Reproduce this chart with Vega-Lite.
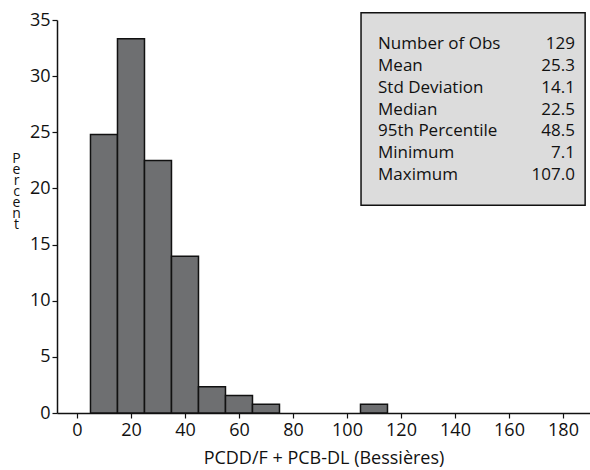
{
  "$schema": "https://vega.github.io/schema/vega-lite/v6.json",
  "width": 533,
  "height": 393,
  "autosize": {"type": "none"},
  "padding": {"left": 57, "top": 20, "right": 0, "bottom": 57},
  "background": "white",
  "config": {"view": {"stroke": null}, "font": "Open Sans", "text": {"font": "Open Sans"}},
  "datasets": {
    "bins": [
      {"bin_start": 5, "bin_end": 15, "percent": 24.81},
      {"bin_start": 15, "bin_end": 25, "percent": 33.33},
      {"bin_start": 25, "bin_end": 35, "percent": 22.48},
      {"bin_start": 35, "bin_end": 45, "percent": 13.95},
      {"bin_start": 45, "bin_end": 55, "percent": 2.33},
      {"bin_start": 55, "bin_end": 65, "percent": 1.55},
      {"bin_start": 65, "bin_end": 75, "percent": 0.78},
      {"bin_start": 105, "bin_end": 115, "percent": 0.78}
    ],
    "stats": [
      {"stat": "Number of Obs", "value": "129"},
      {"stat": "Mean", "value": "25.3"},
      {"stat": "Std Deviation", "value": "14.1"},
      {"stat": "Median", "value": "22.5"},
      {"stat": "95th Percentile", "value": "48.5"},
      {"stat": "Minimum", "value": "7.1"},
      {"stat": "Maximum", "value": "107.0"}
    ]
  },
  "resolve": {"scale": {"y": "independent"}},
  "layer": [
    {
      "data": {"name": "bins"},
      "mark": {"type": "rect", "fill": "#6e6f71", "stroke": "#111111", "strokeWidth": 1.5},
      "encoding": {
        "x": {
          "field": "bin_start", "type": "quantitative",
          "scale": {"domain": [-7.4, 190], "nice": false, "zero": false},
          "axis": {
            "values": [0, 10, 20, 30, 40, 50, 60, 70, 80, 90, 100, 110, 120, 130, 140, 150, 160, 170, 180],
            "labelExpr": "datum.value % 20 == 0 ? datum.label : ''",
            "grid": false,
            "domainColor": "#111111", "domainWidth": 1.5,
            "tickColor": "#111111", "tickSize": 5, "tickWidth": 1.2,
            "labelFontSize": 18, "labelColor": "#111111", "labelPadding": 3, "labelFont": "Open Sans",
            "title": "PCDD/F + PCB-DL (Bessières)",
            "titleFontSize": 18, "titleFontWeight": "normal", "titleColor": "#111111", "titleFont": "Open Sans",
            "titleBaseline": "alphabetic", "titleY": 50
          }
        },
        "x2": {"field": "bin_end"},
        "y": {
          "field": "percent", "type": "quantitative",
          "scale": {"domain": [0, 35], "nice": false},
          "axis": {
            "values": [0, 5, 10, 15, 20, 25, 30, 35],
            "grid": false,
            "domainColor": "#111111", "domainWidth": 1.5,
            "tickColor": "#111111", "tickSize": 5, "tickWidth": 1.2,
            "labelFontSize": 18, "labelColor": "#111111", "labelPadding": 2, "labelFont": "Open Sans",
            "title": ["P", "e", "r", "c", "e", "n", "t"],
            "titleAngle": 0, "titleAlign": "center", "titleBaseline": "top",
            "titleFontSize": 14, "titleFontWeight": "normal", "titleColor": "#111111", "titleFont": "Open Sans",
            "titleLineHeight": 11, "titleX": -41, "titleY": 131
          }
        },
        "y2": {"datum": 0}
      }
    },
    {
      "data": {"values": [{}]},
      "mark": {"type": "rect", "fill": "#dcdcdc", "stroke": "#111111", "strokeWidth": 1.5, "clip": false},
      "encoding": {
        "x": {"datum": 105.2, "type": "quantitative"},
        "x2": {"datum": 188.2},
        "y": {"datum": 35.65, "type": "quantitative", "scale": {"domain": [0, 35], "nice": false}, "axis": null},
        "y2": {"datum": 18.5}
      }
    },
    {
      "data": {"name": "stats"},
      "mark": {"type": "text", "align": "left", "baseline": "middle", "fontSize": 17, "color": "#111111", "font": "Open Sans"},
      "encoding": {
        "x": {"datum": 111.5, "type": "quantitative"},
        "y": {"field": "stat", "type": "nominal", "scale": {"type": "point", "domain": ["Number of Obs", "Mean", "Std Deviation", "Median", "95th Percentile", "Minimum", "Maximum"], "range": [13, 166]}, "axis": null},
        "text": {"field": "stat"}
      }
    },
    {
      "data": {"name": "stats"},
      "mark": {"type": "text", "align": "right", "baseline": "middle", "fontSize": 17, "color": "#111111", "font": "Open Sans"},
      "encoding": {
        "x": {"datum": 184.4, "type": "quantitative"},
        "y": {"field": "stat", "type": "nominal", "scale": {"type": "point", "domain": ["Number of Obs", "Mean", "Std Deviation", "Median", "95th Percentile", "Minimum", "Maximum"], "range": [13, 166]}, "axis": null},
        "text": {"field": "value"}
      }
    }
  ]
}
